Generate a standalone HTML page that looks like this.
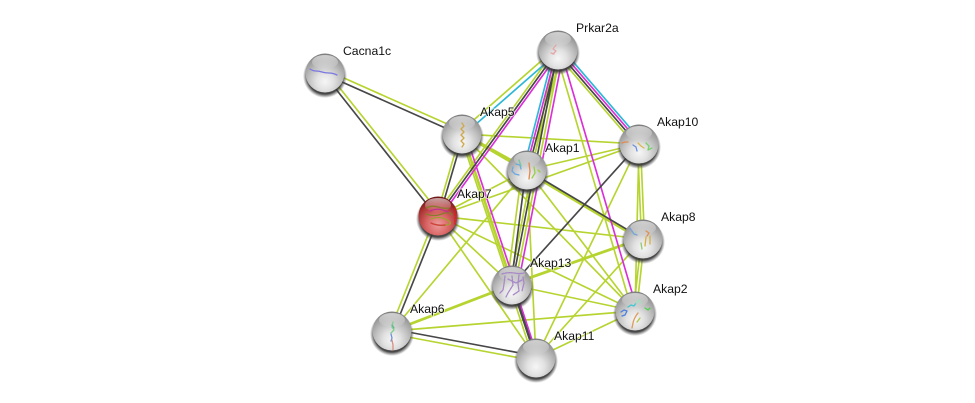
<!DOCTYPE html>
<html><head><meta charset="utf-8"><style>
html,body{margin:0;padding:0;background:#fff;width:975px;height:403px;overflow:hidden}
svg{display:block}
text{font-family:"Liberation Sans",sans-serif;font-size:12.2px;fill:#111;paint-order:stroke;stroke:rgba(255,255,255,.6);stroke-width:2px}
.g line{stroke:#b6d430}.k line{stroke:#474747}.m line{stroke:#da2fd8}.c line{stroke:#2db7d9}
line{stroke-width:1.65;fill:none}
.p{fill:none;stroke-width:1.3;stroke-linecap:round;stroke-linejoin:round}
</style></head><body>
<svg width="975" height="403" viewBox="0 0 975 403" xmlns="http://www.w3.org/2000/svg">
<defs>
<radialGradient id="b" cx=".5" cy=".72" r=".74"><stop offset="0" stop-color="#f6f6f6"/><stop offset=".3" stop-color="#e2e2e2"/><stop offset=".6" stop-color="#bcbcbc"/><stop offset=".85" stop-color="#989898"/><stop offset="1" stop-color="#707070"/></radialGradient>
<radialGradient id="r" cx=".5" cy=".72" r=".74"><stop offset="0" stop-color="#ee9c9c"/><stop offset=".4" stop-color="#d86464"/><stop offset=".75" stop-color="#a83030"/><stop offset="1" stop-color="#5e0f0f"/></radialGradient>
<linearGradient id="h" x1="0" y1="0" x2="0" y2="1"><stop offset="0" stop-color="#fff" stop-opacity=".6"/><stop offset="1" stop-color="#fff" stop-opacity=".03"/></linearGradient>
<radialGradient id="s" cx=".5" cy=".5" r=".5"><stop offset=".82" stop-color="#333" stop-opacity=".9"/><stop offset="1" stop-color="#555" stop-opacity="0"/></radialGradient>
<g id="n"><circle cx="0" cy="3" r="22" fill="url(#s)"/><circle r="19.5" fill="url(#b)"/></g>
<g id="nr"><circle cx="0" cy="3" r="22" fill="url(#s)"/><circle r="19.5" fill="url(#r)"/></g>
<ellipse id="hl" cx="0" cy="-11" rx="13" ry="7" fill="url(#h)"/>
</defs>

<g class="g">
<line x1="326" y1="70" x2="463" y2="131"/>
<line x1="327" y1="72" x2="441" y2="215"/>
<line x1="556" y1="48" x2="460" y2="132"/>
<line x1="555.1" y1="52.4" x2="636.1" y2="146.4"/>
<line x1="561.75" y1="50" x2="530.75" y2="170"/>
<line x1="561" y1="50" x2="515" y2="285"/>
<line x1="555.5" y1="50" x2="509.5" y2="285"/>
<line x1="556" y1="48.5" x2="436" y2="214.5"/>
<line x1="555.5" y1="51" x2="632.5" y2="312"/>
<line x1="460.5" y1="134" x2="436.5" y2="216"/>
<line x1="462" y1="134" x2="639" y2="144"/>
<line x1="462" y1="133" x2="527" y2="169" style="stroke-width:2.6"/>
<line x1="462" y1="134" x2="643" y2="239"/>
<line x1="463" y1="134" x2="513" y2="285"/>
<line x1="460" y1="134" x2="510" y2="285"/>
<line x1="462" y1="134" x2="536" y2="358"/>
<line x1="462" y1="134" x2="635" y2="311"/>
<line x1="527" y1="170" x2="639" y2="144"/>
<line x1="438" y1="216" x2="639" y2="144"/>
<line x1="637.5" y1="144" x2="641.5" y2="239"/>
<line x1="640.5" y1="144" x2="644.5" y2="239"/>
<line x1="639" y1="144" x2="635" y2="311"/>
<line x1="639" y1="144" x2="536" y2="358"/>
<line x1="390" y1="330" x2="436" y2="215"/>
<line x1="392" y1="331" x2="527" y2="170"/>
<line x1="392" y1="331" x2="512" y2="285" style="stroke-width:2.8"/>
<line x1="392" y1="331" x2="635" y2="311"/>
<line x1="392" y1="334" x2="536" y2="361"/>
<line x1="527" y1="172" x2="643" y2="241" style="stroke-width:2.4"/>
<line x1="527" y1="170" x2="438" y2="216"/>
<line x1="522" y1="170" x2="507" y2="285"/>
<line x1="527" y1="170" x2="536" y2="358"/>
<line x1="527" y1="170" x2="635" y2="311"/>
<line x1="438" y1="216" x2="643" y2="239"/>
<line x1="438" y1="216" x2="512" y2="285"/>
<line x1="438" y1="216" x2="635" y2="311"/>
<line x1="438" y1="216" x2="536" y2="358"/>
<line x1="512" y1="285" x2="635" y2="311"/>
<line x1="509" y1="285" x2="533" y2="358"/>
<line x1="512" y1="284" x2="643" y2="238" style="stroke-width:2.8"/>
<line x1="643" y1="239" x2="536" y2="358"/>
<line x1="641.5" y1="239" x2="633.5" y2="311"/>
<line x1="644.5" y1="239" x2="636.5" y2="311"/>
<line x1="635" y1="311" x2="536" y2="358"/>
</g>
<g class="c">
<line x1="559" y1="51.5" x2="463" y2="135.5"/>
<line x1="560.9" y1="47.6" x2="641.9" y2="141.6"/>
<line x1="554.25" y1="50" x2="523.25" y2="170"/>
</g>
<g class="m">
<line x1="560" y1="51.5" x2="440" y2="217.5"/>
<line x1="559" y1="49.2" x2="640" y2="143.2"/>
<line x1="556.75" y1="50" x2="525.75" y2="170"/>
<line x1="564" y1="50" x2="518" y2="285"/>
<line x1="560.5" y1="50" x2="637.5" y2="311"/>
<line x1="465.5" y1="134" x2="515.5" y2="285"/>
<line x1="514" y1="285" x2="538" y2="358"/>
</g>
<g class="k">
<line x1="324" y1="74" x2="461" y2="135"/>
<line x1="324" y1="74" x2="437" y2="217"/>
<line x1="557" y1="50.8" x2="638" y2="144.8"/>
<line x1="559.25" y1="50" x2="528.25" y2="170"/>
<line x1="558" y1="50" x2="512" y2="285"/>
<line x1="558" y1="50" x2="438" y2="216"/>
<line x1="463.5" y1="134" x2="439.5" y2="216"/>
<line x1="439.5" y1="216" x2="393.5" y2="331"/>
<line x1="639" y1="144" x2="512" y2="285"/>
<line x1="392" y1="329" x2="536" y2="356"/>
<line x1="527" y1="170" x2="643" y2="239"/>
<line x1="526" y1="170" x2="511" y2="285"/>
<line x1="512" y1="285" x2="536" y2="358" style="stroke-width:2.4"/>
</g>

<use href="#n" x="325" y="73"/>
<use href="#n" x="558" y="50"/>
<use href="#n" x="462" y="134"/>
<use href="#n" x="639" y="144"/>
<use href="#n" x="527" y="170"/>
<use href="#nr" x="438" y="216"/>
<use href="#n" x="643" y="239"/>
<use href="#n" x="512" y="285"/>
<use href="#n" x="635" y="311"/>
<use href="#n" x="392" y="331"/>
<use href="#n" x="536" y="358"/>

<use href="#hl" x="325" y="73"/><use href="#hl" x="558" y="50"/><use href="#hl" x="462" y="134"/><use href="#hl" x="639" y="144"/><use href="#hl" x="527" y="170"/><use href="#hl" x="438" y="216"/><use href="#hl" x="643" y="239"/><use href="#hl" x="512" y="285"/><use href="#hl" x="635" y="311"/><use href="#hl" x="392" y="331"/><use href="#hl" x="536" y="358"/>

<path class="p" stroke="#7a78e0" d="M310 69q3 2 6 2t6 1 7 1 8 2"/>
<path class="p" stroke="#e0a8a8" d="M556 45l-3 4 3 2-3 3M551 53l3 1"/>
<path class="p" stroke="#cfa84a" stroke-width="2.6" d="M462 123l2 3-3 3 3 3-3 3 3 3-3 3 3 3-2 3"/>
<path class="p" stroke="#e08a50" d="M622 143l3-1 3 0"/><path class="p" stroke="#6a8fe0" d="M633 145l3 2 1 4"/><path class="p" stroke="#d8b850" d="M638 143l3 3 3 2"/><path class="p" stroke="#7ad070" d="M646 143l3 3-1 4 4-2"/>
<path class="p" stroke="#6aa8e0" stroke-width="2" d="M513 167l-1 4 3 3 4 1M516 164l4 1 1 4"/><path class="p" stroke="#70c8a0" d="M519 160l2 6"/><path class="p" stroke="#e08a50" stroke-width="3" d="M529 163l1 8-1 8"/><path class="p" stroke="#9ad040" d="M534 167l1 6-3 5M538 170l2 2"/>
<path class="p" stroke="#8a7a30" d="M426 208q6-3 12-1t11 1M426 214q8 3 16 0t10 1"/><path class="p" stroke="#c03090" d="M430 211q8-4 18 1"/><path class="p" stroke="#a0a030" stroke-width="2" d="M431 219q7-3 14 0t5 5q-8 3-16 0"/><path class="p" stroke="#d04040" d="M431 223q6 3 14 2"/><path class="p" stroke="#d82020" stroke-width="1.8" stroke-dasharray="1.5 1.5" d="M455 208v16"/>
<path class="p" stroke="#a0d0c0" d="M636 232l-3 3"/><path class="p" stroke="#7aa0d8" d="M630 228l4 6 3 1"/><path class="p" stroke="#e09050" d="M646 231l3 2-2 3"/><path class="p" stroke="#d8b040" stroke-width="2" d="M646 237l-1 9M650 236v8"/><path class="p" stroke="#90c870" d="M641 243l1 6"/>
<path class="p" stroke="#a888c8" stroke-width="1.8" stroke-dasharray="2 1" d="M502 274q6-2 12-1t10 0M505 276l-1 8-1 6-3 3M512 276l1 9-5 8-2 4M519 275l-1 9 1 7-6 4M523 277l1 6-2 8M508 279l8 4 6-3"/>
<path class="p" stroke="#4a80e0" stroke-width="2.8" d="M621 312l3-2 3 1-2 4-3 1"/><path class="p" stroke="#40c8d0" stroke-width="2.8" d="M628 307l3-2 3 1 2-3"/><path class="p" stroke="#50d050" stroke-width="2.6" d="M645 308l3 2 2-2"/><path class="p" stroke="#a0e0c0" d="M636 303l3-3 2 3"/><path class="p" stroke="#e09a60" d="M638 313q-4 5-5 10t-1 5"/><path class="p" stroke="#b0c840" stroke-width="1.8" d="M640 318l-3 4"/>
<path class="p" stroke="#80d090" d="M393 322l-1 5 2 3-3 3"/><path class="p" stroke="#60b890" d="M392 325l2 3"/><path class="p" stroke="#7090d8" d="M391 334l1 4-1 3"/><path class="p" stroke="#d89080" d="M392 340l1 5 0 5"/>

<text x="343" y="55">Cacna1c</text>
<text x="576" y="32">Prkar2a</text>
<text x="480" y="116">Akap5</text>
<text x="657" y="126">Akap10</text>
<text x="545" y="152">Akap1</text>
<text x="457" y="198">Akap7</text>
<text x="661" y="221">Akap8</text>
<text x="530" y="267">Akap13</text>
<text x="653" y="293">Akap2</text>
<text x="410" y="313">Akap6</text>
<text x="554" y="340">Akap11</text>
</svg>
</body></html>
